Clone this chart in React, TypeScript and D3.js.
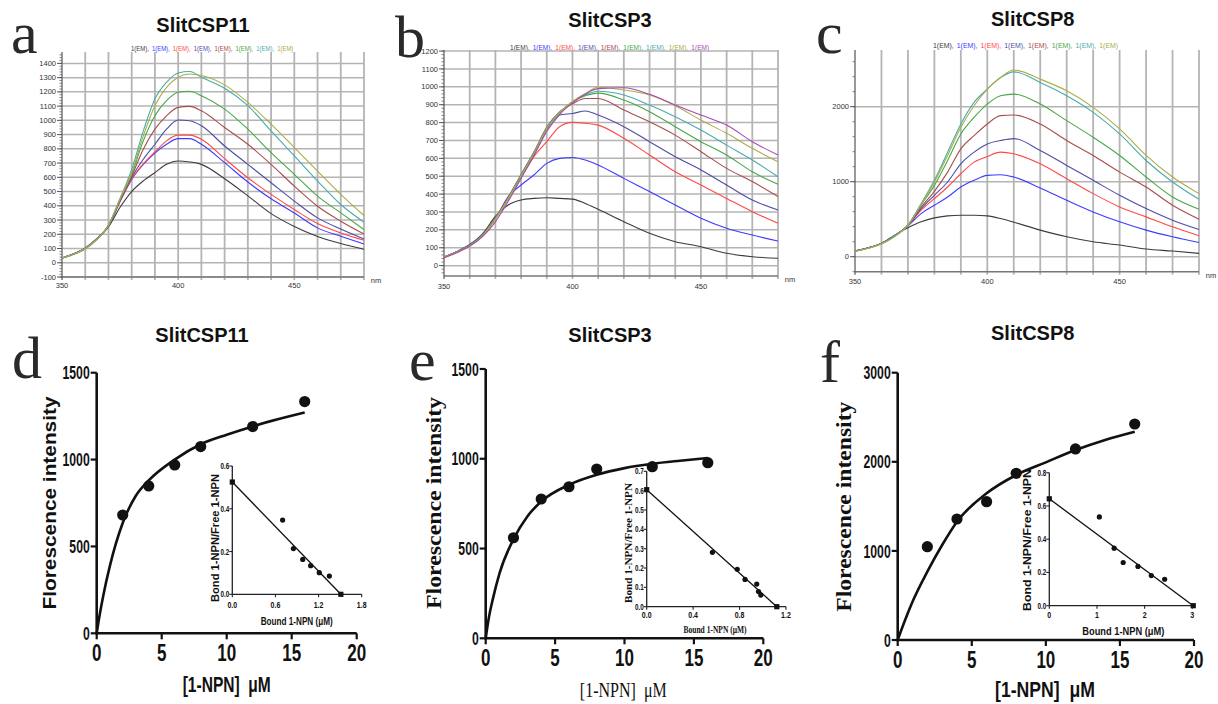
import * as d3 from "d3";

// ---------- data ----------
const wavelengths = [350, 355, 360, 365, 370, 375, 380, 385, 390, 395, 400, 405, 410, 420, 430, 440, 450, 460, 470, 480];
const traceColors = ["#3c3c3c", "#3c3cff", "#ff4848", "#4d4da8", "#a84d4d", "#48a848", "#4aacac", "#acac4a", "#ac4aac"];

// SlitCSP11 emission spectra (black, blue, red, navy, brown, green, teal, olive)
const csp11Spectra = [
  [33, 63, 103, 168, 252, 390, 500, 575, 633, 691, 715, 708, 691, 590, 470, 345, 255, 185, 135, 95],
  [33, 63, 103, 169, 258, 430, 585, 690, 770, 832, 872, 872, 832, 703, 567, 449, 350, 245, 186, 132],
  [33, 63, 103, 169, 258, 432, 590, 695, 778, 856, 896, 896, 868, 731, 597, 480, 374, 275, 209, 158],
  [33, 62, 102, 168, 260, 438, 600, 727, 832, 938, 1002, 997, 962, 820, 691, 562, 433, 315, 237, 167],
  [32, 61, 100, 166, 262, 442, 609, 797, 938, 1032, 1091, 1098, 1067, 950, 832, 691, 538, 397, 292, 202],
  [31, 58, 97, 162, 262, 446, 621, 856, 1032, 1138, 1197, 1204, 1173, 1079, 938, 773, 621, 468, 350, 233],
  [33, 62, 100, 165, 265, 452, 656, 926, 1150, 1267, 1333, 1343, 1303, 1225, 1103, 926, 750, 574, 409, 285],
  [33, 61, 99, 164, 264, 450, 632, 891, 1103, 1232, 1303, 1326, 1315, 1249, 1126, 973, 809, 644, 480, 332],
];

// SlitCSP3 emission spectra (9 traces, last one purple)
const csp3Spectra = [
  [48, 78, 118, 178, 275, 339, 367, 376, 380, 376, 372, 348, 315, 246, 181, 134, 106, 69, 50, 41],
  [48, 78, 115, 172, 262, 386, 451, 507, 572, 600, 605, 591, 563, 488, 414, 339, 265, 209, 171, 138],
  [48, 77, 114, 171, 265, 375, 495, 610, 693, 777, 801, 796, 786, 712, 619, 525, 451, 376, 302, 237],
  [48, 77, 114, 171, 266, 380, 505, 625, 760, 842, 851, 865, 842, 777, 693, 609, 535, 451, 367, 311],
  [47, 77, 114, 171, 267, 382, 510, 635, 775, 860, 905, 935, 935, 870, 805, 730, 637, 544, 470, 386],
  [47, 76, 113, 170, 265, 378, 508, 632, 770, 858, 915, 950, 965, 926, 861, 777, 693, 619, 525, 455],
  [47, 76, 112, 168, 262, 375, 503, 628, 768, 855, 915, 955, 975, 954, 898, 833, 758, 674, 591, 497],
  [46, 75, 111, 167, 260, 372, 500, 625, 765, 855, 918, 962, 998, 982, 954, 894, 814, 740, 656, 581],
  [44, 72, 108, 162, 245, 360, 488, 615, 750, 845, 910, 960, 990, 995, 958, 898, 842, 786, 693, 619],
];

// SlitCSP8 emission spectra
const csp8Spectra = [
  [75, 119, 177, 288, 385, 465, 518, 544, 553, 553, 544, 509, 460, 354, 265, 199, 155, 102, 75, 44],
  [75, 119, 177, 280, 410, 575, 686, 796, 929, 1018, 1084, 1093, 1062, 916, 752, 597, 465, 354, 265, 190],
  [75, 119, 177, 278, 415, 620, 774, 929, 1106, 1261, 1336, 1394, 1372, 1239, 1040, 841, 664, 531, 398, 279],
  [75, 119, 177, 278, 418, 640, 819, 996, 1239, 1394, 1504, 1549, 1575, 1416, 1217, 1018, 819, 642, 487, 363],
  [74, 118, 176, 277, 420, 660, 872, 1128, 1438, 1615, 1770, 1881, 1889, 1770, 1549, 1350, 1128, 929, 686, 500],
  [73, 117, 175, 276, 422, 690, 951, 1283, 1637, 1858, 2035, 2146, 2168, 2035, 1814, 1593, 1350, 1062, 796, 633],
  [72, 116, 174, 275, 425, 708, 1018, 1394, 1770, 2058, 2234, 2389, 2465, 2323, 2146, 1925, 1637, 1283, 996, 765],
  [70, 112, 168, 268, 418, 700, 996, 1350, 1726, 2013, 2234, 2389, 2490, 2367, 2212, 1991, 1704, 1350, 1062, 841],
];

// binding curves
const ligandConc = [2, 4, 6, 8, 12, 16];
const csp11Intensity = [681, 848, 969, 1075, 1190, 1334];
const csp3Intensity = [560, 776, 844, 943, 956, 978];
const csp8Intensity = [1047, 1358, 1552, 1871, 2144, 2424];

const fitConc = [0, 0.25, 0.5, 1, 2, 3, 4, 6, 8, 10, 12, 14, 16];
const csp11Fit = [0, 115, 215, 384, 635, 790, 880, 1000, 1088, 1143, 1191, 1233, 1271];
const csp3Fit = [0, 125, 214, 363, 552, 679, 762, 855, 911, 948, 972, 989, 1004];
const csp8Fit = [0, 115, 225, 430, 767, 1066, 1328, 1646, 1852, 1994, 2132, 2245, 2338];

// Scatchard insets
const csp11Bound = [0, 0.7, 0.85, 0.98, 1.09, 1.21, 1.35, 1.51];
const csp11Ratio = [0.525, 0.347, 0.214, 0.163, 0.134, 0.101, 0.085, 0];
const csp3Bound = [0, 0.566, 0.78, 0.847, 0.948, 0.963, 0.983, 1.121];
const csp3Ratio = [0.605, 0.281, 0.193, 0.141, 0.117, 0.078, 0.06, 0];
const csp8Bound = [0, 1.05, 1.36, 1.55, 1.86, 2.14, 2.42, 3.02];
const csp8Ratio = [0.643, 0.534, 0.346, 0.26, 0.236, 0.181, 0.159, 0];

const sans = "'Liberation Sans', Arial, sans-serif";
const serif = "'Liberation Serif', 'Times New Roman', serif";

// ---------- helpers ----------
function Txt({ x, y, size, children, anchor = "middle", weight = "normal", family = sans, rotate = 0, sx = 1, len, fill = "#111" }: any) {
  return (
    <text
      transform={`translate(${x},${y}) rotate(${rotate}) scale(${sx},1)`}
      textAnchor={anchor}
      fontSize={size}
      fontWeight={weight}
      fontFamily={family}
      fill={fill}
      textLength={len}
      lengthAdjust={len ? "spacingAndGlyphs" : undefined}
      style={{ whiteSpace: "pre" }}
    >
      {children}
    </text>
  );
}

function SpectraPanel({ series, xRange, yDomain, yRange, gridY, labelY, minorStep, title, titleX, titleY, letter, letterX, letterY, legendX, legendY, legendW, labelDy }: any) {
  const x = d3.scaleLinear().domain([350, 480]).range(xRange);
  const y = d3.scaleLinear().domain(yDomain).range(yRange);
  const line = d3
    .line<number>()
    .x((_, i) => x(wavelengths[i]))
    .y((d) => y(d))
    .curve(d3.curveMonotoneX);
  const [x0, x1] = xRange;
  const [yB, yT] = yRange;
  const minors = d3.range(Math.ceil(yDomain[0] / minorStep) * minorStep, yDomain[1], minorStep);
  const entryW = legendW / series.length;
  // "1(EM)," is about 3 em wide in Liberation Sans
  const legendScale = (entryW - 3) / (3.0 * 8);

  return (
    <g>
      <Txt x={letterX} y={letterY} size={60} anchor="start" family={serif} fill="#2a2a2a">{letter}</Txt>
      <Txt x={titleX} y={titleY} size={20} weight="bold">{title}</Txt>
      {series.map((_: any, i: number) => (
        <Txt key={"lg" + i} x={legendX + i * entryW} y={legendY} size={8} anchor="start" sx={legendScale} fill={traceColors[i]}>
          {"1(EM)" + (i < series.length - 1 ? "," : "")}
        </Txt>
      ))}
      {gridY.map((v: number) => (
        <line key={"h" + v} x1={x0} x2={x1} y1={y(v)} y2={y(v)} stroke="#b4b4b4" strokeWidth={1.5} />
      ))}
      {d3.range(360, 481, 10).map((v) => (
        <line key={"v" + v} x1={x(v)} x2={x(v)} y1={yT} y2={yB + 3} stroke="#b4b4b4" strokeWidth={1.8} />
      ))}
      <line x1={x0} x2={x1} y1={yB} y2={yB} stroke="#777" strokeWidth={1.5} />
      <line x1={x0} x2={x0} y1={yT} y2={yB + 3} stroke="#555" strokeWidth={1.2} />
      {minors.map((v: number) => (
        <line key={"m" + v} x1={x0 - 2.5} x2={x0} y1={y(v)} y2={y(v)} stroke="#666" strokeWidth={0.8} />
      ))}
      {labelY.map((v: number) => (
        <g key={"l" + v}>
          <line x1={x0 - 5} x2={x0} y1={y(v)} y2={y(v)} stroke="#555" strokeWidth={1} />
          <Txt x={x0 - 6} y={y(v) + 2.6} size={7.5} anchor="end" fill="#333">{String(v)}</Txt>
        </g>
      ))}
      {[350, 400, 450].map((v) => (
        <Txt key={"x" + v} x={x(v)} y={yB + labelDy} size={7.5} fill="#333">{String(v)}</Txt>
      ))}
      <Txt x={x1 + 12} y={yB + 6} size={7.5} fill="#333">nm</Txt>
      {series.map((s: number[], i: number) => (
        <path key={"s" + i} d={line(s) || ""} fill="none" stroke={traceColors[i]} strokeWidth={1.1} />
      ))}
    </g>
  );
}

function BindingPanel({ p }: any) {
  const x = d3.scaleLinear().domain([0, 20]).range(p.xRange);
  const y = d3.scaleLinear().domain([0, p.yMax]).range(p.yRange);
  const fit = d3
    .line<number>()
    .x((_, i) => x(fitConc[i]))
    .y((d) => y(d))
    .curve(d3.curveMonotoneX);
  const [ax0, ax1] = p.xRange;
  const [ay0, ay1] = p.yRange;

  const ix = d3.scaleLinear().domain(p.inXDomain).range(p.inXRange);
  const iy = d3.scaleLinear().domain(p.inYDomain).range(p.inYRange);
  const [ix0, ix1] = p.inXRange;
  const [iy0, iy1] = p.inYRange;
  const n = p.bound.length;

  return (
    <g>
      <Txt x={p.letterX} y={p.letterY} size={60} anchor="start" family={serif} fill="#2a2a2a">{p.letter}</Txt>
      <Txt x={p.titleX} y={p.titleY} size={20} weight="bold">{p.title}</Txt>

      {/* main axes */}
      <line x1={ax0} x2={ax1} y1={ay0} y2={ay0} stroke="#111" strokeWidth={2.6} />
      <line x1={ax0} x2={ax0} y1={ay0 + 1.3} y2={ay1} stroke="#111" strokeWidth={2.6} />
      {x.ticks(4).map((v) => (
        <g key={"xt" + v}>
          <line x1={x(v)} x2={x(v)} y1={ay0} y2={ay0 + 6} stroke="#111" strokeWidth={2.2} />
          <Txt x={x(v)} y={ay0 + 28} size={23} weight="bold" sx={0.74}>{String(v)}</Txt>
        </g>
      ))}
      {p.yTicks.map((v: number) => (
        <g key={"yt" + v}>
          <line x1={ax0 - 6} x2={ax0} y1={y(v)} y2={y(v)} stroke="#111" strokeWidth={2.2} />
          <Txt x={ax0 - 7} y={y(v) + 6.6} size={18.5} weight="bold" sx={0.66} anchor="end">{String(v)}</Txt>
        </g>
      ))}
      <Txt x={p.yLabX} y={p.yLabY} size={p.yLabSize} weight="bold" family={p.yLabFamily} rotate={-90} len={p.yLabLen}>Florescence intensity</Txt>
      <Txt x={p.xLabX} y={p.xLabY} size={22} weight={p.xLabWeight} family={p.xLabFamily} len={p.xLabLen}>{"[1-NPN]  μM"}</Txt>

      <path d={fit(p.fit) || ""} fill="none" stroke="#111" strokeWidth={2.6} />
      {ligandConc.map((c, i) => (
        <circle key={"pt" + i} cx={x(c)} cy={y(p.values[i])} r={5.6} fill="#111" />
      ))}

      {/* Scatchard inset */}
      <line x1={ix0} x2={ix1} y1={iy0} y2={iy0} stroke="#222" strokeWidth={1.3} />
      <line x1={ix0} x2={ix0} y1={iy0} y2={iy1} stroke="#222" strokeWidth={1.3} />
      {p.inXTicks.map((v: number) => (
        <g key={"ixt" + v}>
          <line x1={ix(v)} x2={ix(v)} y1={iy0} y2={iy0 + 3} stroke="#222" strokeWidth={1.1} />
          <Txt x={ix(v)} y={iy0 + p.inXLabDy} size={9} weight="bold" sx={0.78}>{d3.format(p.inXFmt)(v)}</Txt>
        </g>
      ))}
      {p.inYTicks.map((v: number) => (
        <g key={"iyt" + v}>
          <line x1={ix0 - 3} x2={ix0} y1={iy(v)} y2={iy(v)} stroke="#222" strokeWidth={1.1} />
          <Txt x={ix0 - 3} y={iy(v) + 3} size={9} weight="bold" sx={0.7} anchor="end">{d3.format(".1f")(v)}</Txt>
        </g>
      ))}
      <Txt x={p.inYLabX} y={p.inYLabY} size={11} weight="bold" family={p.inFamily} rotate={-90} len={p.inYLabLen}>Bond 1-NPN/Free 1-NPN</Txt>
      <Txt x={p.inXLabX} y={p.inXLabY} size={11} weight="bold" family={p.inFamily} len={p.inXLabLen}>Bound 1-NPN (μM)</Txt>
      <line
        x1={ix(p.bound[0])}
        y1={iy(p.ratio[0])}
        x2={ix(p.bound[n - 1])}
        y2={iy(p.ratio[n - 1])}
        stroke="#111"
        strokeWidth={1.3}
      />
      {p.bound.map((b: number, i: number) =>
        i === 0 || i === n - 1 ? (
          <rect key={"ip" + i} x={ix(b) - 2.6} y={iy(p.ratio[i]) - 2.6} width={5.2} height={5.2} fill="#111" />
        ) : (
          <circle key={"ip" + i} cx={ix(b)} cy={iy(p.ratio[i])} r={2.6} fill="#111" />
        )
      )}
    </g>
  );
}

const panelD = {
  letter: "d", letterX: 12, letterY: 378, title: "SlitCSP11", titleX: 202, titleY: 342,
  xRange: [96.7, 356.7], yRange: [633.3, 372.7], yMax: 1500, yTicks: [0, 500, 1000, 1500],
  values: csp11Intensity, fit: csp11Fit,
  yLabX: 56, yLabY: 503, yLabSize: 18, yLabFamily: sans, yLabLen: 213,
  xLabX: 226.7, xLabY: 691.5, xLabWeight: "bold", xLabFamily: sans, xLabLen: 88,
  inXDomain: [0, 1.8], inXRange: [232.3, 361.7], inYDomain: [0, 0.6], inYRange: [594.3, 466],
  inXTicks: [0, 0.6, 1.2, 1.8], inYTicks: [0, 0.2, 0.4, 0.6], inXFmt: ".1f", inXLabDy: 14,
  bound: csp11Bound, ratio: csp11Ratio, inFamily: sans,
  inYLabX: 219, inYLabY: 538, inYLabLen: 128, inXLabX: 296.7, inXLabY: 625, inXLabLen: 72,
};

const panelE = {
  letter: "e", letterX: 409, letterY: 380, title: "SlitCSP3", titleX: 610, titleY: 342,
  xRange: [485.7, 763.3], yRange: [638.3, 369], yMax: 1500, yTicks: [0, 500, 1000, 1500],
  values: csp3Intensity, fit: csp3Fit,
  yLabX: 441, yLabY: 503, yLabSize: 20, yLabFamily: serif, yLabLen: 212,
  xLabX: 623.3, xLabY: 696.5, xLabWeight: "normal", xLabFamily: serif, xLabLen: 87,
  inXDomain: [0, 1.2], inXRange: [646.7, 786], inYDomain: [0, 0.7], inYRange: [606.7, 471.3],
  inXTicks: [0, 0.4, 0.8, 1.2], inYTicks: [0, 0.1, 0.2, 0.3, 0.4, 0.5, 0.6, 0.7], inXFmt: ".1f", inXLabDy: 11,
  bound: csp3Bound, ratio: csp3Ratio, inFamily: serif,
  inYLabX: 631.5, inYLabY: 543, inYLabLen: 120, inXLabX: 715, inXLabY: 633.3, inXLabLen: 63,
};

const panelF = {
  letter: "f", letterX: 820, letterY: 382, title: "SlitCSP8", titleX: 1032.7, titleY: 339.5,
  xRange: [897.7, 1194], yRange: [640, 372.7], yMax: 3000, yTicks: [0, 1000, 2000, 3000],
  values: csp8Intensity, fit: csp8Fit,
  yLabX: 851, yLabY: 506.7, yLabSize: 20, yLabFamily: serif, yLabLen: 210,
  xLabX: 1045, xLabY: 697, xLabWeight: "bold", xLabFamily: sans, xLabLen: 100,
  inXDomain: [0, 3], inXRange: [1049.3, 1192.3], inYDomain: [0, 0.8], inYRange: [605.7, 472.7],
  inXTicks: [0, 1, 2, 3], inYTicks: [0, 0.2, 0.4, 0.6, 0.8], inXFmt: "d", inXLabDy: 12.5,
  bound: csp8Bound, ratio: csp8Ratio, inFamily: sans,
  inYLabX: 1030.5, inYLabY: 540, inYLabLen: 142, inXLabX: 1123.3, inXLabY: 635, inXLabLen: 82,
};

export default function App() {
  return (
    <svg
      width={1218}
      height={704}
      viewBox="0 0 1218 704"
      style={{ position: "absolute", left: 0, top: 0, background: "#fff" }}
    >
      <rect width={1218} height={704} fill="#fff" />
      <SpectraPanel
        series={csp11Spectra} xRange={[62, 364]} yDomain={[-100, 1480]} yRange={[277, 52]}
        gridY={d3.range(-100, 1401, 100)} labelY={d3.range(-100, 1401, 100)} minorStep={20}
        title="SlitCSP11" titleX={203} titleY={32} letter="a" letterX={11} letterY={53}
        legendX={131} legendY={51} legendW={167} labelDy={11}
      />
      <SpectraPanel
        series={csp3Spectra} xRange={[444, 778]} yDomain={[-58, 1206]} yRange={[276, 50]}
        gridY={d3.range(0, 1201, 100)} labelY={d3.range(0, 1201, 100)} minorStep={20}
        title="SlitCSP3" titleX={610} titleY={27} letter="b" letterX={395} letterY={57}
        legendX={510} legendY={50} legendW={204} labelDy={13}
      />
      <SpectraPanel
        series={csp8Spectra} xRange={[855, 1199]} yDomain={[-200, 2756]} yRange={[271.7, 50]}
        gridY={[0, 1000, 2000]} labelY={[0, 1000, 2000]} minorStep={200}
        title="SlitCSP8" titleX={1032.7} titleY={26} letter="c" letterX={816} letterY={53}
        legendX={933} legendY={47.5} legendW={190} labelDy={12}
      />
      <BindingPanel p={panelD} />
      <BindingPanel p={panelE} />
      <BindingPanel p={panelF} />
    </svg>
  );
}
